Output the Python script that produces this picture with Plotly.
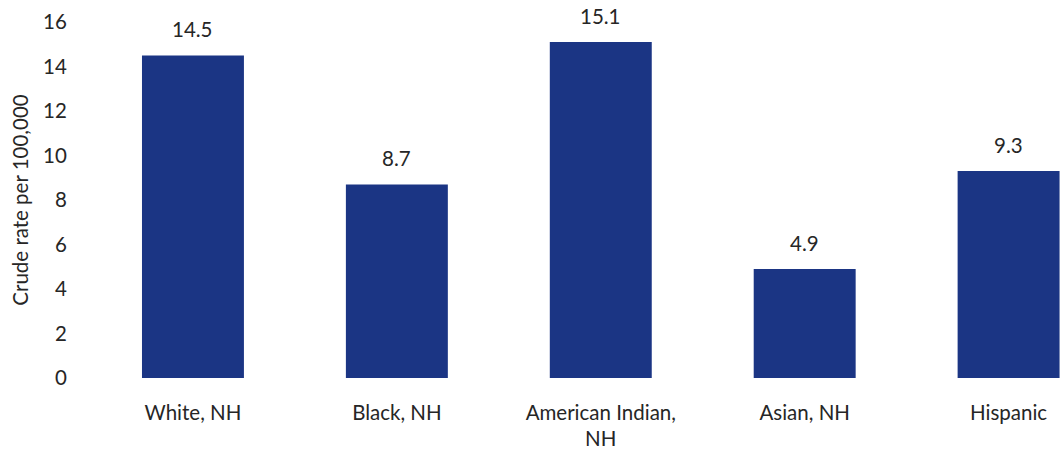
import plotly.graph_objects as go

categories = ["White, NH", "Black, NH", "American Indian,<br>NH", "Asian, NH", "Hispanic"]
values = [14.5, 8.7, 15.1, 4.9, 9.3]
labels = ["14.5", "8.7", "15.1", "4.9", "9.3"]
y_ticks = [0, 2, 4, 6, 8, 10, 12, 14, 16]

FONT = "Lato, 'Open Sans', sans-serif"
TXT = "#262626"
FS = 20.5

xs = list(range(len(categories)))

fig = go.Figure(go.Bar(
    x=xs,
    y=values,
    marker=dict(color="#1B3584", line=dict(width=0)),
    width=0.5,
))

for x, v, t in zip(xs, values, labels):
    fig.add_annotation(x=x, y=v, text=t, showarrow=False, yanchor="bottom",
                       yshift=12, font=dict(family=FONT, size=FS, color=TXT))

fig.update_layout(
    width=1061, height=456,
    margin=dict(l=91, r=0, t=22, b=78, autoexpand=False),
    paper_bgcolor="white", plot_bgcolor="white",
    showlegend=False,
    font=dict(family=FONT, size=FS, color=TXT),
    xaxis=dict(
        range=[-0.5, 4.257],
        tickmode="array",
        tickvals=xs,
        ticktext=categories,
        showgrid=False, zeroline=False, showline=False,
        ticks="outside", ticklen=16, tickcolor="rgba(0,0,0,0)",
        tickfont=dict(size=FS, color=TXT),
        automargin=False,
    ),
    yaxis=dict(
        range=[0, 16],
        tickmode="array",
        tickvals=y_ticks,
        showgrid=False, zeroline=False, showline=False,
        ticks="outside", ticklen=19, tickcolor="rgba(0,0,0,0)",
        tickfont=dict(size=FS, color=TXT),
        title=dict(text="Crude rate per 100,000", font=dict(size=FS, color=TXT), standoff=8),
        automargin=False,
    ),
)

fig.write_html("out.html", config={"displayModeBar": False},
               post_script="document.body.style.margin='0';document.body.style.padding='0';")
